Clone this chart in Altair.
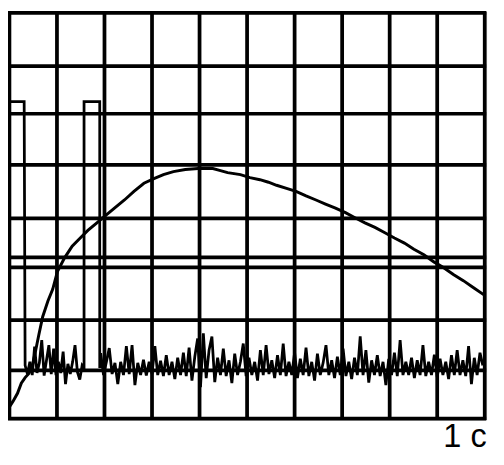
import altair as alt
import pandas as pd

# Grid (divisions)
grid_x = [0, 1, 2, 3, 4, 5, 6, 7, 8, 9, 10]
grid_y = [0, 0.95, 1.94, 2.98, 3.18, 3.95, 5.0, 6.01, 6.95, 8.0]

# Smooth response curve
curve_x = [0.00, 0.08, 0.17, 0.25, 0.33, 0.41, 0.48, 0.54, 0.62, 0.70, 0.81, 0.91,
           1.01, 1.16, 1.32, 1.49, 1.65, 1.84, 2.02, 2.21, 2.42, 2.62, 2.83, 3.04,
           3.24, 3.45, 3.70, 3.97, 4.28, 4.44, 4.59, 4.86, 5.06, 5.27, 5.45, 5.62,
           5.83, 6.03, 6.24, 6.45, 6.65, 6.86, 7.07, 7.27, 7.48, 7.69, 7.89, 8.10,
           8.31, 8.51, 8.72, 8.93, 9.13, 9.34, 9.55, 9.75, 10.0]
curve_y = [0.23, 0.35, 0.50, 0.70, 0.81, 0.89, 1.04, 1.29, 1.66, 2.01, 2.32, 2.55,
           2.90, 3.17, 3.40, 3.56, 3.71, 3.86, 4.00, 4.15, 4.31, 4.48, 4.64, 4.73,
           4.81, 4.87, 4.91, 4.93, 4.93, 4.89, 4.85, 4.81, 4.75, 4.71, 4.66, 4.60,
           4.54, 4.48, 4.39, 4.31, 4.23, 4.15, 4.06, 3.96, 3.86, 3.77, 3.67, 3.56,
           3.46, 3.34, 3.23, 3.09, 2.98, 2.84, 2.72, 2.59, 2.43]

# Pulse levels and edges
pulse_high = 6.25
pulse1_end = 0.31
pulse2_start = 1.57
pulse2_end = 1.90

# Noise between pulses (x from 0.33, step 0.05)
noise_a_start = 0.33
noise_a_step = 0.05
noise_a = [1.05, 0.88, 1.12, 0.86, 1.42, 0.90, 1.10, 1.55, 0.85, 1.15,
           1.45, 0.88, 1.38, 0.86, 1.12, 0.90, 1.32, 0.68, 1.08, 0.88,
           1.12, 1.45, 0.92, 0.77, 1.05]

# Noise after second pulse (x from 1.92, step 0.06)
noise_b_start = 1.92
noise_b_step = 0.06
noise_b = [1.29, 0.86, 1.12, 1.39, 0.88, 1.10, 0.68, 1.12, 0.86, 1.43,
           0.88, 1.45, 0.66, 1.10, 0.86, 1.16, 0.85, 1.12, 0.88, 1.43,
           0.86, 1.14, 0.84, 1.25, 0.86, 1.12, 0.78, 1.20, 0.86, 1.30,
           0.84, 1.40, 0.75, 1.22, 1.58, 0.62, 1.68, 0.80, 1.35, 1.62,
           0.72, 1.20, 0.86, 1.38, 0.84, 1.15, 0.70, 1.28, 0.86, 1.12,
           1.48, 0.84, 1.20, 0.86, 1.12, 0.75, 1.35, 0.86, 1.45, 0.88,
           1.15, 0.80, 1.25, 0.86, 1.48, 0.84, 1.12, 0.86, 1.30, 0.80,
           1.18, 0.86, 1.40, 0.84, 1.12, 0.75, 1.28, 0.86, 1.10, 1.45,
           0.86, 1.15, 0.80, 1.22, 0.86, 1.38, 0.84, 1.12, 0.78, 1.20,
           0.86, 1.62, 0.86, 1.35, 0.71, 1.15, 0.86, 1.25, 0.84, 1.12,
           0.66, 1.18, 0.86, 1.30, 0.84, 1.55, 0.86, 1.12, 0.86, 1.20,
           0.80, 1.15, 0.86, 1.45, 0.84, 1.12, 0.86, 1.26, 0.82, 1.18,
           0.86, 1.12, 0.78, 1.25, 0.86, 1.35, 0.86, 1.15, 0.84, 1.43,
           0.68, 1.20, 0.86, 1.30, 1.05]

x_label = "1 c"

# Build trace table
tx, ty = [0.0, pulse1_end], [pulse_high, pulse_high]
for k, v in enumerate(noise_a):
    tx.append(round(noise_a_start + k * noise_a_step, 3)); ty.append(v)
tx += [pulse2_start, pulse2_start, pulse2_end, pulse2_end]
ty += [1.0, pulse_high, pulse_high, 1.0]
for k, v in enumerate(noise_b):
    tx.append(round(noise_b_start + k * noise_b_step, 3)); ty.append(v)
trace_df = pd.DataFrame({"x": tx, "y": ty, "i": list(range(len(tx)))})
curve_df = pd.DataFrame({"x": curve_x, "y": curve_y, "i": list(range(len(curve_x)))})
gx_df = pd.DataFrame({"x": grid_x})
gy_df = pd.DataFrame({"y": grid_y})

xscale = alt.Scale(domain=[-0.03, 10.03], nice=False, zero=False)
yscale = alt.Scale(domain=[-0.025, 8.023], nice=False, zero=False)
xaxis = alt.Axis(title=x_label, labels=False, ticks=False, domain=False, grid=False,
                 titleAnchor="end", titleFontSize=33, titleFont="Liberation Sans",
                 titleFontWeight="normal", titleColor="black",
                 titleBaseline="alphabetic", titleY=27)
X = lambda: alt.X("x:Q", scale=xscale, axis=xaxis)
Y = lambda: alt.Y("y:Q", scale=yscale, axis=None)

vgrid = alt.Chart(gx_df).mark_rule(color="black", strokeWidth=3.8).encode(x=X())
hgrid = alt.Chart(gy_df).mark_rule(color="black", strokeWidth=3.8).encode(y=Y())
curve = alt.Chart(curve_df).mark_line(color="black", strokeWidth=3).encode(
    x=X(), y=Y(), order="i:Q")
trace = alt.Chart(trace_df).mark_line(color="black", strokeWidth=2.8).encode(
    x=X(), y=Y(), order="i:Q")

chart = alt.layer(vgrid, hgrid, curve, trace).properties(
    width=486, height=415,
    padding={"left": 0, "top": 0, "right": 10, "bottom": 34},
    autosize=alt.AutoSizeParams(type="none")
).configure_view(stroke=None).configure(background="white")

chart.save("out.html", embed_options={"renderer": "svg", "actions": False})
